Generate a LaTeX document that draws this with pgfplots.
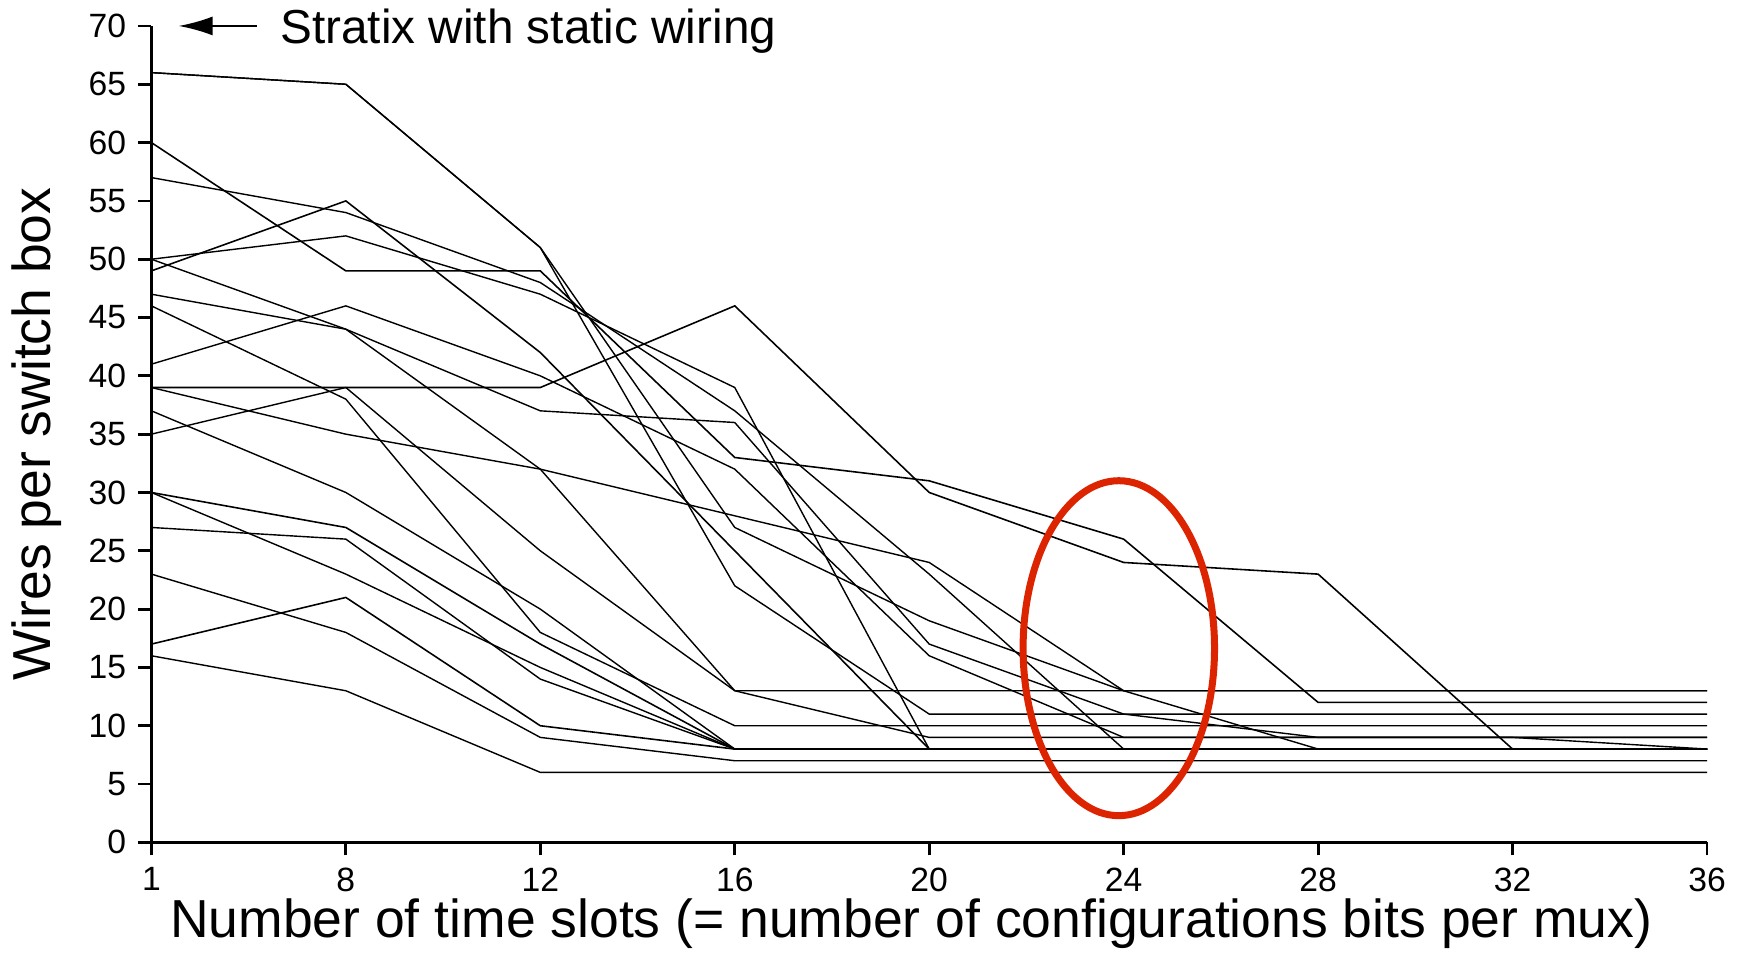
\documentclass[border=0pt]{standalone}
\usepackage{pgfplots}
\pgfplotsset{compat=1.18}
\usepackage{fontspec}
\setmainfont{Liberation Sans}
\usetikzlibrary{arrows.meta}
\definecolor{ellred}{RGB}{221,36,0}
\begin{document}
\begin{tikzpicture}
\begin{axis}[
  at={(0,0)}, anchor=south west,
  scale only axis, width=15.587cm, height=8.18cm,
  xmin=0, xmax=8, ymin=0, ymax=70,
  axis x line=bottom, axis y line=left,
  axis line style={-, line width=0.8pt},
  xtick={0,...,8}, xticklabels={1,8,12,16,20,24,28,32,36},
  ytick={0,5,...,70},
  tick align=outside, major tick length=0.13cm,
  tick style={line width=0.8pt, black},
  ticklabel style={font=\fontsize{9.6}{11}\selectfont},
  /pgf/number format/assume math mode=true,
  xlabel={Number of time slots (= number of configurations bits per mux)},
  ylabel={Wires per switch box},
  label style={font=\fontsize{15.25}{18}\selectfont},
  xlabel style={at={([xshift=-0.18cm,yshift=-0.81cm]axis description cs:0.5,0)}, anchor=center},
  ylabel style={at={([xshift=-1.15cm]axis description cs:0,0.5)}, anchor=center},
  clip=false,
  cycle list={{black, solid, line width=0.45pt, mark=none}},
]
\addplot coordinates {(0,66)(1,65)(2,51)(3,27)(4,19)(5,13)(6,13)(7,13)(8,13)};
\addplot coordinates {(0,66)(1,65)(2,51)(3,22)(4,11)(5,11)(6,9)(7,9)(8,8)};
\addplot coordinates {(0,60)(1,49)(2,49)(3,33)(4,31)(5,26)(6,12)(7,12)(8,12)};
\addplot coordinates {(0,57)(1,54)(2,48)(3,37)(4,23)(5,8)(6,8)(7,8)(8,8)};
\addplot coordinates {(0,50)(1,52)(2,47)(3,39)(4,8)(5,8)(6,8)(7,8)(8,8)};
\addplot coordinates {(0,50)(1,44)(2,37)(3,36)(4,17)(5,11)(6,11)(7,11)(8,11)};
\addplot coordinates {(0,49)(1,55)(2,42)(3,25)(4,8)(5,8)(6,8)(7,8)(8,8)};
\addplot coordinates {(0,47)(1,44)(2,32)(3,13)(4,13)(5,13)(6,13)(7,13)(8,13)};
\addplot coordinates {(0,46)(1,38)(2,18)(3,10)(4,10)(5,10)(6,10)(7,10)(8,10)};
\addplot coordinates {(0,41)(1,46)(2,40)(3,32)(4,16)(5,9)(6,9)(7,9)(8,9)};
\addplot coordinates {(0,39)(1,39)(2,39)(3,46)(4,30)(5,24)(6,23)(7,8)(8,8)};
\addplot coordinates {(0,39)(1,35)(2,32)(3,28)(4,24)(5,13)(6,8)(7,8)(8,8)};
\addplot coordinates {(0,37)(1,30)(2,20)(3,8)(4,8)(5,8)(6,8)(7,8)(8,8)};
\addplot coordinates {(0,35)(1,39)(2,25)(3,13)(4,9)(5,9)(6,9)(7,9)(8,9)};
\addplot coordinates {(0,30)(1,27)(2,17)(3,8)(4,8)(5,8)(6,8)(7,8)(8,8)};
\addplot coordinates {(0,30)(1,23)(2,15)(3,8)(4,8)(5,8)(6,8)(7,8)(8,8)};
\addplot coordinates {(0,27)(1,26)(2,14)(3,8)(4,8)(5,8)(6,8)(7,8)(8,8)};
\addplot coordinates {(0,23)(1,18)(2,9)(3,7)(4,7)(5,7)(6,7)(7,7)(8,7)};
\addplot coordinates {(0,17)(1,21)(2,10)(3,8)(4,8)(5,8)(6,8)(7,8)(8,8)};
\addplot coordinates {(0,16)(1,13)(2,6)(3,6)(4,6)(5,6)(6,6)(7,6)(8,6)};
\draw[ellred, line width=2pt] (axis cs:4.975,16.65) ellipse [x radius=0.959cm, y radius=1.678cm];
\draw[black, line width=0.6pt, -{Latex[length=0.34cm,width=0.19cm]}] (axis cs:0.543,70) -- (axis cs:0.14,70);
\node[anchor=base west, inner sep=0pt, font=\fontsize{13.6}{16}\selectfont] at (axis cs:0.66,68.5) {Stratix with static wiring};
\end{axis}
\path[use as bounding box] (-1.483,-1.12) rectangle (15.997,8.44);
\end{tikzpicture}
\end{document}
